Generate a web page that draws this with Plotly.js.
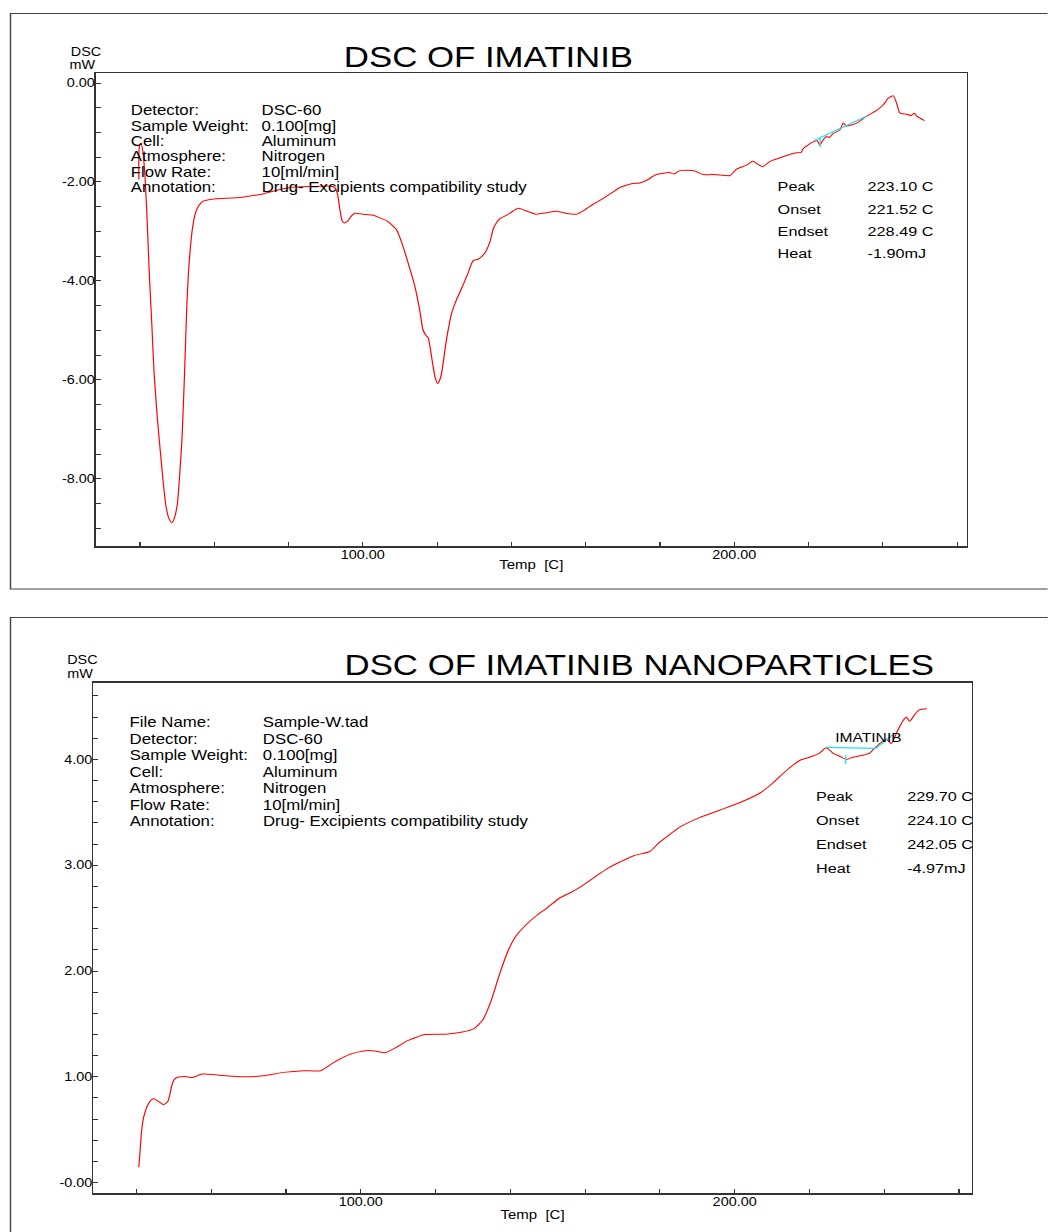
<!DOCTYPE html>
<html><head><meta charset="utf-8">
<script src="https://cdn.plot.ly/plotly-3.0.1.min.js"></script>
<style>
html,body{margin:0;padding:0;background:#fff;overflow:hidden;}
#wrap{width:1048px;height:1232px;overflow:hidden;position:relative;}
#chart{width:873.333px;height:1232px;transform:scaleX(1.2);transform-origin:0 0;}
</style></head><body><div id="wrap"><div id="chart"></div></div>
<script>
// ---------- DATA: DSC of Imatinib ----------
const tempA = [39.7,39.9,40.3,40.8,41.4,42.0,42.5,43.2,43.8,44.7,45.6,46.3,47.0,47.8,48.6,49.3,50.1,50.7,51.3,52.0,52.6,53.3,54.2,55.1,56.0,56.9,58.5,60.4,65.8,69.0,72.1,76.6,79.0,82.0,87.4,91.1,92.5,93.2,93.8,94.4,95.0,95.9,97.0,97.9,99.9,102.8,104.4,106.4,108.0,109.1,110.4,112.2,114.0,115.3,116.2,117.0,117.6,118.5,119.4,120.1,120.7,121.2,122.5,123.9,125.2,127.0,128.3,129.7,131.0,132.8,134.2,135.1,136.0,136.9,138.5,139.6,141.8,143.5,146.7,149.5,152.1,154.5,157.5,160.0,162.0,164.7,167.0,169.2,172.7,174.5,176.3,179.0,182.6,183.8,185.3,188.9,191.6,194.0,196.1,198.8,200.6,203.3,205.0,206.5,207.7,209.5,213.1,216.7,218.0,218.5,221.2,222.3,223.0,224.0,224.8,225.6,226.6,228.4,229.3,230.2,232.9,235.6,238.2,240.1,241.4,242.8,243.7,244.6,246.4,247.5,248.5,249.1,251.2];
const dscA  = [-1.95,-1.25,-1.22,-1.40,-1.95,-2.90,-3.84,-4.90,-5.86,-6.80,-7.54,-8.10,-8.55,-8.80,-8.88,-8.78,-8.48,-7.90,-7.21,-5.86,-4.51,-3.57,-2.90,-2.59,-2.46,-2.39,-2.36,-2.34,-2.32,-2.29,-2.26,-2.17,-2.13,-2.10,-2.09,-2.08,-2.12,-2.25,-2.55,-2.78,-2.83,-2.79,-2.68,-2.63,-2.65,-2.67,-2.72,-2.78,-2.88,-2.97,-3.21,-3.64,-4.11,-4.59,-4.99,-5.10,-5.15,-5.53,-5.93,-6.07,-6.00,-5.86,-5.19,-4.65,-4.38,-4.08,-3.84,-3.59,-3.56,-3.44,-3.21,-2.95,-2.82,-2.74,-2.68,-2.63,-2.53,-2.57,-2.65,-2.62,-2.59,-2.63,-2.65,-2.55,-2.45,-2.33,-2.22,-2.11,-2.03,-2.02,-1.97,-1.85,-1.81,-1.84,-1.77,-1.77,-1.85,-1.85,-1.86,-1.87,-1.74,-1.66,-1.58,-1.65,-1.69,-1.59,-1.49,-1.41,-1.40,-1.33,-1.19,-1.17,-1.25,-1.14,-1.08,-1.10,-1.02,-0.95,-0.81,-0.87,-0.81,-0.67,-0.56,-0.44,-0.31,-0.26,-0.41,-0.61,-0.63,-0.66,-0.61,-0.67,-0.76];
const baseTA = [221.5,235.6];
const baseVA = [-1.16,-0.67];
const peakTA = [223.1,223.1];
const peakVA = [-1.10,-1.30];

// ---------- DATA: DSC of Imatinib nanoparticles ----------
const tempB = [40.6,41.0,41.3,41.7,42.2,43.3,44.5,45.8,47.2,48.4,49.4,50.0,50.8,53.0,54.8,57.6,62.1,68.4,73.8,79.3,84.7,89.2,92.8,97.3,101.8,104.6,106.4,109.1,112.7,117.2,122.6,127.2,130.3,132.6,134.8,137.1,139.4,141.6,144.3,147.1,149.6,153.2,156.0,159.0,163.9,166.5,169.3,173.0,177.3,180.0,183.0,185.3,190.6,196.0,201.3,206.7,210.0,214.0,217.4,220.0,222.7,224.5,226.3,228.1,229.9,231.6,234.3,236.1,237.0,238.8,240.6,241.9,243.3,244.6,245.9,246.8,248.1,249.5,251.4];
const dscB  = [0.146,0.32,0.466,0.58,0.658,0.753,0.792,0.77,0.737,0.77,0.913,0.97,0.993,1.003,0.993,1.026,1.016,1.0,1.009,1.042,1.058,1.058,1.137,1.216,1.249,1.239,1.227,1.271,1.345,1.399,1.403,1.424,1.456,1.537,1.713,1.968,2.192,2.335,2.44,2.527,2.59,2.69,2.74,2.80,2.92,2.98,3.03,3.09,3.13,3.22,3.30,3.36,3.45,3.52,3.59,3.68,3.77,3.90,3.99,4.02,4.06,4.11,4.06,4.03,4.00,4.02,4.04,4.06,4.09,4.15,4.19,4.15,4.25,4.34,4.40,4.36,4.42,4.47,4.48];
const baseTB = [224.5,237.7,242.2];
const baseVB = [4.114,4.105,4.231];
const peakTB = [229.7,229.7];
const peakVB = [4.04,3.96];

// ---------- TICKS ----------
const xTickVals = [40,60,80,100,120,140,160,180,200,220,240,260];
const xTickText = ['','','','100.00','','','','','200.00','','',''];
const yTickValsA = [-9,-8.5,-8,-7.5,-7,-6.5,-6,-5.5,-5,-4.5,-4,-3.5,-3,-2.5,-2,-1.5,-1,-0.5,0];
const yTickTextA = ['','','-8.00','','','','-6.00','','','','-4.00','','','','-2.00','','','','0.00'];
const yTickValsB = [0,0.2,0.4,0.6,0.8,1,1.2,1.4,1.6,1.8,2,2.2,2.4,2.6,2.8,3,3.2,3.4,3.6,3.8,4,4.2,4.4,4.6];
const yTickTextB = ['-0.00','','','','','1.00','','','','','2.00','','','','','3.00','','','','','4.00','','',''];

// ---------- TEXT ----------
const infoLabelsA = ['Detector:','Sample Weight:','Cell:','Atmosphere:','Flow Rate:','Annotation:'];
const infoValuesA = ['DSC-60','0.100[mg]','Aluminum','Nitrogen','10[ml/min]','Drug- Excipients compatibility study'];
const infoLabelsB = ['File Name:','Detector:','Sample Weight:','Cell:','Atmosphere:','Flow Rate:','Annotation:'];
const infoValuesB = ['Sample-W.tad','DSC-60','0.100[mg]','Aluminum','Nitrogen','10[ml/min]','Drug- Excipients compatibility study'];
const statLabels = ['Peak','Onset','Endset','Heat'];
const statValuesA = ['223.10 C','221.52 C','228.49 C','-1.90mJ'];
const statValuesB = ['229.70 C','224.10 C','242.05 C','-4.97mJ'];

// ---------- LAYOUT ----------
const W = 1048, H = 1232;
const px = x => x / W;
const py = y => 1 - y / H;
const FONT = 'Liberation Sans, Arial, Helvetica, sans-serif';
const RED = '#ff0000', CYAN = '#20e0e8', AX = '#333333';

function ann(text, x, y, size, xanchor) {
  return {text: text, x: px(x), y: py(y), xref: 'paper', yref: 'paper',
          xanchor: xanchor || 'left', yanchor: 'middle', showarrow: false,
          font: {family: FONT, size: size, color: '#000'}};
}

const annotations = [];
annotations.push(ann('DSC OF IMATINIB NANOPARTICLES', 342, 665, 29));
annotations.push(ann('DSC', 86, 52, 12, 'center'));
annotations.push(ann('mW', 82.5, 65.5, 12, 'center'));
annotations.push(ann('DSC', 83, 659.5, 12, 'center'));
annotations.push(ann('mW', 80, 674, 12, 'center'));
annotations.push(ann('Temp  [C]', 532, 565, 12.5, 'center'));
annotations.push(ann('Temp  [C]', 533, 1215, 12.5, 'center'));
infoLabelsA.forEach((t, i) => annotations.push(ann(t, 129, 110.5 + i * 15.3, 14)));
infoValuesA.forEach((t, i) => annotations.push(ann(t, 259, 110.5 + i * 15.3, 14)));
infoLabelsB.forEach((t, i) => annotations.push(ann(t, 127.5, 722 + i * 16.5, 14)));
infoValuesB.forEach((t, i) => annotations.push(ann(t, 260, 722 + i * 16.5, 14)));
statLabels.forEach((t, i) => annotations.push(ann(t, 775, 186.7 + i * 22.4, 13.5)));
statValuesA.forEach((t, i) => annotations.push(ann(t, 865.5, 186.7 + i * 22.4, 13.5)));
statLabels.forEach((t, i) => annotations.push(ann(t, 814, 796 + i * 24.3, 13.5)));
statValuesB.forEach((t, i) => annotations.push(ann(t, 905.5, 796 + i * 24.3, 13.5)));
annotations.push(ann('IMATINIB', 833, 737, 13));

const axisCommon = {
  showline: true, mirror: true, linecolor: AX, linewidth: 1.5,
  showgrid: false, zeroline: false, ticks: 'inside', ticklen: 4,
  tickcolor: AX, tickwidth: 1, tickmode: 'array', ticklabelstandoff: -3,
  tickfont: {family: FONT, size: 12, color: '#000'}, fixedrange: true
};

const SM = {shape: 'spline', smoothing: 0.6};
const traces = [
  {x: tempA, y: dscA, xaxis: 'x', yaxis: 'y', mode: 'lines', line: Object.assign({color: RED, width: 1}, SM)},
  {x: baseTA, y: baseVA, xaxis: 'x', yaxis: 'y', mode: 'lines', line: {color: CYAN, width: 1.2}},
  {x: peakTA, y: peakVA, xaxis: 'x', yaxis: 'y', mode: 'lines', line: {color: CYAN, width: 1.2}},
  {x: tempB, y: dscB, xaxis: 'x2', yaxis: 'y2', mode: 'lines', line: Object.assign({color: RED, width: 1}, SM)},
  {x: baseTB, y: baseVB, xaxis: 'x2', yaxis: 'y2', mode: 'lines', line: {color: CYAN, width: 1.2}},
  {x: peakTB, y: peakVB, xaxis: 'x2', yaxis: 'y2', mode: 'lines', line: {color: CYAN, width: 1.2}}
];

const layout = {
  width: W / 1.2, height: H,
  margin: {l: 0, r: 0, t: 0, b: 0},
  paper_bgcolor: '#fff', plot_bgcolor: '#fff',
  showlegend: false,
  font: {family: FONT, color: '#000'},
  title: {text: 'DSC OF IMATINIB', x: px(344), xanchor: 'left', xref: 'paper',
          y: py(57), yanchor: 'middle', yref: 'paper',
          font: {family: FONT, size: 29, color: '#000'}},
  xaxis: Object.assign({}, axisCommon, {domain: [px(96), px(967)], anchor: 'y',
          range: [28.15, 262.54], tickvals: xTickVals, ticktext: xTickText}),
  yaxis: Object.assign({}, axisCommon, {domain: [py(546), py(73)], anchor: 'x',
          range: [-9.354, 0.202], tickvals: yTickValsA, ticktext: yTickTextA}),
  xaxis2: Object.assign({}, axisCommon, {domain: [px(93.5), px(972)], anchor: 'y2',
          range: [28.48, 263.4], tickvals: xTickVals, ticktext: xTickText}),
  yaxis2: Object.assign({}, axisCommon, {domain: [py(1193), py(682.6)], anchor: 'x2',
          range: [-0.098, 4.726], tickvals: yTickValsB, ticktext: yTickTextB}),
  shapes: [
    {type: 'rect', xref: 'paper', yref: 'paper', x0: px(10.5), x1: 1.02, y0: py(589), y1: py(13.5),
     line: {color: '#444', width: 1.2}, fillcolor: 'rgba(0,0,0,0)', layer: 'below'},
    {type: 'rect', xref: 'paper', yref: 'paper', x0: px(10.5), x1: 1.02, y0: -0.02, y1: py(617.5),
     line: {color: '#444', width: 1.2}, fillcolor: 'rgba(0,0,0,0)', layer: 'below'}
  ],
  annotations: annotations
};

Plotly.newPlot('chart', traces, layout, {staticPlot: true, displayModeBar: false});
</script>
</body></html>
